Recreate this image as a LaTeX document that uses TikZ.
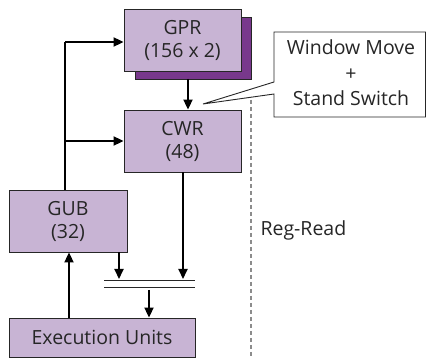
\documentclass[tikz,border=0pt]{standalone}
\usepackage{fontspec}
\setmainfont{Open Sans}
\usetikzlibrary{arrows.meta}
\definecolor{boxfill}{RGB}{200,180,212}
\definecolor{shadowc}{RGB}{120,56,140}
\definecolor{dashc}{RGB}{140,140,140}
\begin{document}
\begin{tikzpicture}[x=1pt,y=-1pt,
  regbox/.style={draw=black!85, line width=0.9pt, fill=boxfill, align=center, inner sep=0pt, font=\fontsize{19.5}{23}\selectfont, text=black!85},
  flow/.style={line width=2pt, -{Triangle[length=10pt,width=9pt]}},
  plain/.style={line width=2pt}]
\useasboundingbox (0,0) rectangle (426,358);
% shadow of GPR
\fill[shadowc, draw=black!85, line width=0.8pt] (135,17) rectangle (251,79);
\node[regbox, minimum width=117pt, minimum height=62pt] (gpr) at (182.5,40) {GPR\\(156 x 2)};
\node[regbox, minimum width=117pt, minimum height=62pt] (cwr) at (182.5,141) {CWR\\(48)};
\node[regbox, minimum width=118pt, minimum height=62pt] (gub) at (68,221) {GUB\\(32)};
\node[regbox, minimum width=186pt, minimum height=39pt] (eu) at (102,337.5) {Execution Units};
% left bus
\coordinate (lb) at (65,190);
\coordinate (lt) at (65,42);
\draw[plain] (lb) -- (lt);
\draw[flow] (lt) -- (gpr.west |- lt);
\draw[flow] (65,141) -- (cwr.west);
% GPR -> CWR
\draw[flow] (188,79) -- (cwr.north -| 188,0);
% bus lines
\coordinate (bl1) at (104,280);
\coordinate (br1) at (195,280);
\coordinate (bl2) at (104,287);
\coordinate (br2) at (195,287);
\draw[line width=0.9pt, black!85] (bl1) -- (br1);
\draw[line width=0.9pt, black!85] (bl2) -- (br2);
\draw[flow] (gub.south -| 119,0) -- (119,279);
\draw[flow] (cwr.south -| 183,0) -- (183,279);
\draw[flow] (149,290) -- (eu.north -| 149,0);
\draw[flow] (eu.north -| 69,0) -- (gub.south -| 69,0);
% dashed divider
\draw[dashc, line width=1.2pt, dash pattern=on 4pt off 3pt] (251,100) -- (251,358);
\node[anchor=west, font=\fontsize{19.5}{23}\selectfont, text=black!85] (rr) at (257,230) {Reg-Read};
% callout
\coordinate (tip) at (203,104);
\draw[line width=0.9pt, black!85, fill=white] (274,82) -- (tip) -- (274,94) -- (274,117) -- (425.5,117) -- (425.5,32) -- (274,32) -- cycle;
\node[align=center, font=\fontsize{19.5}{25.5}\selectfont, text=black!85] (wm) at (351,73) {Window Move\\+\\Stand Switch};
\end{tikzpicture}
\end{document}
